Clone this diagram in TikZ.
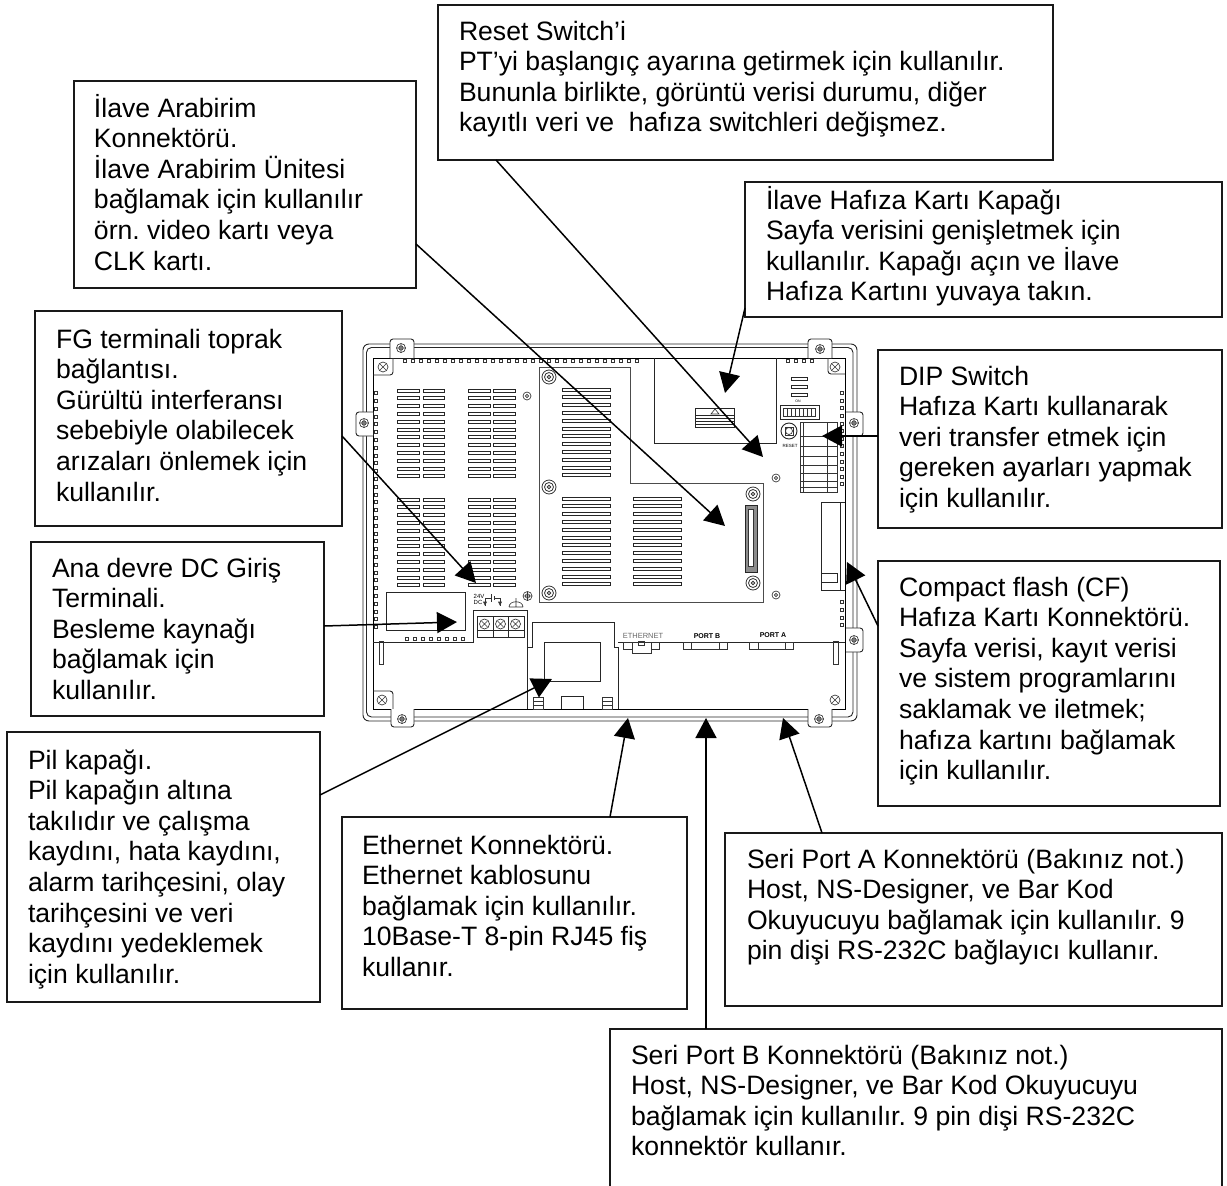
\documentclass[tikz,border=0pt]{standalone}
\usepackage{fontspec}
\setmainfont{Liberation Sans}
\usetikzlibrary{arrows.meta}
\tikzset{
  x=1pt,y=-1pt,
  calloutbox/.style={draw=black!90,line width=1.4pt,inner sep=0pt,outer sep=0pt,anchor=north west},
  leader/.style={draw=black,line width=1.5pt,-{Triangle[length=20pt,width=21pt]}},
  dev/.style={draw=black!85,line width=0.9pt},
  devfine/.style={draw=black!80,line width=0.65pt},
  devheavy/.style={draw=black,line width=0.8pt},
  devlabel/.style={inner sep=0pt,font=\fontsize{7.5}{8}\selectfont}
}
\newcommand\calloutnode[8]{%
  \node[calloutbox] (#1) at (#2,#3) {\parbox[c][\dimexpr#5pt-#3pt\relax][t]{\dimexpr#4pt-#2pt\relax}{%
    \fontsize{26.6}{30.6}\selectfont\frenchspacing\raggedright\leftskip=\dimexpr#6pt-#2pt\relax
    \vspace*{\dimexpr#7pt-#3pt-25pt\relax}\rule{0pt}{25pt}#8\par\vfil}};}
\newcommand\crossscrew[2]{\draw[devfine] (#1,#2) circle[radius=4.5];
  \draw[devfine] ({#1-4.5},#2)--({#1+4.5},#2) ({#1},{#2-4.5})--({#1},{#2+4.5}) (#1,#2) circle[radius=2.2];}
\newcommand\xscrew[2]{\draw[devfine] (#1,#2) circle[radius=5];
  \draw[devfine] ({#1-3},{#2-3})--({#1+3},{#2+3}) ({#1-3},{#2+3})--({#1+3},{#2-3});}
\newcommand\ringscrew[2]{\draw[devfine,line width=0.8pt] (#1,#2) circle[radius=7] (#1,#2) circle[radius=4.5] (#1,#2) circle[radius=1.8];}
\newcommand\smallring[2]{\draw[devfine] (#1,#2) circle[radius=4] (#1,#2) circle[radius=1.6];}
\newcommand\dotsq[2]{\draw[devfine] ({#1-1.5},{#2-1.5}) rectangle ++(3,3);}
\newcommand\ventblock[3]{\foreach \r in {0,...,11}{\draw[dev] (#1,{#3+7.8*\r}) rectangle (#2,{#3+7.8*\r+3});}}
\begin{document}
\begin{tikzpicture}
\useasboundingbox (0,0) rectangle (1227,1186);
% --- device outline
\draw[dev,rounded corners=6] (363,344) rectangle (857,721);
\draw[dev,rounded corners=5] (366.5,347.5) rectangle (853,717);
\draw[devheavy] (373,358) rectangle (845,709);
\draw[dev,rounded corners=3] (393,358)--(393,375)--(373,375);
\draw[dev,rounded corners=3] (828,358)--(828,374)--(845,374);
\draw[dev,rounded corners=3] (393,709)--(393,691)--(373,691);
\xscrew{383}{367}\xscrew{835}{367}\xscrew{382}{700}\xscrew{835}{700}
% ears
\draw[dev,fill=white,rounded corners=3] (390,358)--(390,339)--(414,339)--(414,358);
\draw[dev,fill=white,rounded corners=3] (808,358)--(808,339)--(832,339)--(832,358);
\draw[dev,fill=white,rounded corners=3] (373,412)--(356,412)--(356,436)--(373,436);
\draw[dev,fill=white,rounded corners=3] (846,412)--(863,412)--(863,436)--(846,436);
\draw[dev,fill=white,rounded corners=3] (846,628)--(863,628)--(863,652)--(846,652);
\draw[dev,fill=white,rounded corners=3] (391,709)--(391,727)--(414,727)--(414,709);
\draw[dev,fill=white,rounded corners=3] (808,709)--(808,727)--(832,727)--(832,709);
\crossscrew{401}{348}\crossscrew{820}{349}\crossscrew{364}{423}\crossscrew{854}{423}
\crossscrew{854}{640}\crossscrew{402}{719}\crossscrew{819}{719}
% edge dots
\foreach \i in {0,...,29}{\dotsq{405+8*\i}{361}}
\foreach \i in {0,...,3}{\dotsq{788+8*\i}{361}}
\foreach \i in {0,...,30}{\dotsq{376}{393+7.8*\i}}
\foreach \i in {0,...,12}{\dotsq{842}{393+7.6*\i}}
\foreach \i in {0,...,3}{\dotsq{842}{602+7.7*\i}}
\foreach \i in {0,...,7}{\dotsq{407+8*\i}{639}}
% vents
\ventblock{397.3}{419}{389}\ventblock{423}{444.7}{389}
\ventblock{468}{490}{389}\ventblock{493.7}{515}{389}
\ventblock{397.3}{419}{498}\ventblock{423}{444.7}{498}
\ventblock{468}{490}{498}\ventblock{493.7}{515}{498}
% centre plate
\draw[dev,draw=black!70] (539,367)--(630,367)--(630,483)--(763,483)--(763,602)--(539,602)--cycle;
\ventblock{562}{610}{388}\ventblock{562}{610}{497}\ventblock{633}{681}{497}
\ringscrew{549}{377}\ringscrew{549}{487}\ringscrew{549}{593}\ringscrew{753}{494}\ringscrew{753}{583}
\smallring{527}{396}\smallring{776}{478}\smallring{776}{595}
% plate connector
\draw[dev,fill=black!45] (745,505) rectangle (757,572);
\draw[devfine,fill=white] (748.5,509) rectangle (753.5,566);
% card cover
\draw[dev] (654,358)--(654,443)--(776,443)--(776,358);
\draw[dev] (695,408) rectangle (734,427);
\draw[dev] (695,415)--(734,415) (695,418)--(734,418) (695,421)--(734,421) (695,424)--(734,424);
\draw[devfine] (715,409)--(711,414)--(719,414)--cycle;
% right-hand parts
\foreach \y in {377,385,393}{\draw[dev] (791,\y) rectangle (807,\y+3.5);}
\draw[dev,line width=1pt] (780,405) rectangle (819,419);
\foreach \i in {0,...,7}{\draw[devfine] (783.5+4*\i,408) rectangle (783.5+4*\i+3.5,416.5);}
\node[devlabel,font=\fontsize{3.5}{4}\selectfont] (swlabel) at (798,401.5) {ON};
\draw[dev] (789,431) circle[radius=8];
\draw[devfine] (785,427) rectangle (793,435);
\draw[devfine] (789,431) circle[radius=3.5];
\node[devlabel,font=\fontsize{4.5}{5}\selectfont] (resetlabel) at (790,445.5) {RESET};
\draw[devfine] (800,422) rectangle (837,492);
\foreach \y in {436,446,456,465,473,481,487}{\draw[devfine] (800,\y)--(837,\y);}
\foreach \x in {803.5,827.5}{\draw[devfine] (\x,422)--(\x,492);}
% compact flash slot
\draw[dev] (821,590)--(821,502)--(845,502) (821,590)--(845,590) (840,502)--(840,590);
\draw[dev] (821,573) rectangle (837,582);
% bottom section
\draw[dev] (373,642)--(473,642)--(473,610)--(527,610)--(527,709);
\draw[dev] (527,647)--(532,647)--(532,622)--(614,622)--(614,647)--(618,647)--(618,709);
\draw[dev] (618,642)--(845,642);
\draw[dev] (544,642) rectangle (600,681);
\draw[dev] (386,592) rectangle (465,630);
\draw[devfine] (379,641) rectangle (383,664);
\draw[devfine] (833,641) rectangle (838,664);
\foreach \x in {533,602}{\draw[devfine] (\x,697) rectangle (\x+10,709) (\x,701)--(\x+10,701) (\x,705)--(\x+10,705);}
\draw[dev] (561,696)--(561,709) (583,696)--(583,709) (561,696)--(583,696);
% terminal
\draw[dev] (477,616) rectangle (524,637);
\draw[dev] (493,616)--(493,637) (508,616)--(508,637) (477,630)--(524,630);
\xscrew{484.5}{624}\xscrew{500.5}{624}\xscrew{515.5}{624}
\node[devlabel,font=\fontsize{6}{6}\selectfont] (vlabel) at (479,596) {24V};
\node[devlabel,font=\fontsize{6}{6}\selectfont] (dclabel) at (478,602.5) {DC};
\draw[devfine] (485,606)--(485,598)--(491,598) (491,594)--(491,602) (494,596)--(494,600) (494,598)--(500,598)--(500,606);
\draw[devfine,fill=black!75] (483.5,602)--(486.5,602)--(485,605)--cycle (498.5,602)--(501.5,602)--(500,605)--cycle;
\draw[devfine] (516,598)--(516,607) (509,607)--(523,607) (509,607) .. controls (509,600) and (523,600) .. (523,607);
\crossscrew{527.5}{596}
% connectors
\node[devlabel,text=black!60] (ethlabel) at (643,636) {ETHERNET};
\node[devlabel,font=\bfseries\fontsize{7}{8}\selectfont] (portblabel) at (707,636) {PORT B};
\node[devlabel,font=\bfseries\fontsize{7}{8}\selectfont] (portalabel) at (773,635) {PORT A};
\draw[devfine] (623,642) rectangle (659,649);
\draw[devfine,fill=white] (632,642) rectangle (651,653);
\draw[devfine] (638,641) rectangle (644,645);
\draw[devfine] (683,642) rectangle (727,649) (691,642)--(691,649) (719,642)--(719,649);
\draw[devfine] (749,642) rectangle (793,649) (758,642)--(758,649) (785,642)--(785,649);
% --- callouts
\calloutnode{reset}{438}{5}{1053}{160}{459}{40}{Reset Switch’i\\PT’yi başlangıç ayarına getirmek için kullanılır.\\Bununla birlikte, görüntü verisi durumu, diğer\\kayıtlı veri ve\ \ hafıza switchleri değişmez.}
\calloutnode{iface}{74}{81}{416}{288}{94}{117}{İlave Arabirim\\Konnektörü.\\İlave Arabirim Ünitesi\\bağlamak için kullanılır\\örn. video kartı veya\\CLK kartı.}
\calloutnode{memcard}{745}{182}{1222}{317}{766}{209}{İlave Hafıza Kartı Kapağı\\Sayfa verisini genişletmek için\\kullanılır. Kapağı açın ve İlave\\Hafıza Kartını yuvaya takın.}
\calloutnode{dip}{878}{350}{1222}{528}{899}{385}{DIP Switch\\Hafıza Kartı kullanarak\\veri transfer etmek için\\gereken ayarları yapmak\\için kullanılır.}
\calloutnode{fg}{35}{311}{342}{526}{56}{348}{FG terminali toprak\\bağlantısı.\\Gürültü interferansı\\sebebiyle olabilecek\\arızaları önlemek için\\kullanılır.}
\calloutnode{dc}{31}{542}{324}{716}{52}{577}{Ana devre DC Giriş\\Terminali.\\Besleme kaynağı\\bağlamak için\\kullanılır.}
\calloutnode{cf}{878}{561}{1220}{806}{899}{596}{Compact flash (CF)\\Hafıza Kartı Konnektörü.\\Sayfa verisi, kayıt verisi\\ve sistem programlarını\\saklamak ve iletmek;\\hafıza kartını bağlamak\\için kullanılır.}
\calloutnode{pil}{7}{732}{320}{1002}{28}{769}{Pil kapağı.\\Pil kapağın altına\\takılıdır ve çalışma\\kaydını, hata kaydını,\\alarm tarihçesini, olay\\tarihçesini ve veri\\kaydını yedeklemek\\için kullanılır.}
\calloutnode{eth}{342}{817}{687}{1009}{362}{854}{Ethernet Konnektörü.\\Ethernet kablosunu\\bağlamak için kullanılır.\\10Base-T 8-pin RJ45 fiş\\kullanır.}
\calloutnode{porta}{725}{833}{1222}{1006}{747}{868}{Seri Port A Konnektörü (Bakınız not.)\\Host, NS-Designer, ve Bar Kod\\Okuyucuyu bağlamak için kullanılır. 9\\pin dişi RS-232C bağlayıcı kullanır.}
\calloutnode{portb}{610}{1029}{1222}{1200}{631}{1064}{Seri Port B Konnektörü (Bakınız not.)\\Host, NS-Designer, ve Bar Kod Okuyucuyu\\bağlamak için kullanılır. 9 pin dişi RS-232C\\konnektör kullanır.}
% --- arrow tips
\coordinate (tipreset) at (763,457);
\coordinate (tipiface) at (725,526);
\coordinate (tipmem) at (725,393);
\coordinate (tipdip) at (822,436);
\coordinate (tipcf) at (847,562);
\coordinate (tipfg) at (476,583);
\coordinate (tipdc) at (457,622);
\coordinate (tippil) at (552,679);
\coordinate (tipeth) at (628,718);
\coordinate (tipb) at (706,718);
\coordinate (tipa) at (783,718);
% --- leaders
\draw[leader] ([xshift=58pt]reset.south west) -- (tipreset);
\draw[leader] ([yshift=-163pt]iface.north east) -- (tipiface);
\draw[leader] ([yshift=9pt]memcard.south west) -- (tipmem);
\draw[leader] ([yshift=-86pt]dip.north west) -- (tipdip);
\draw[leader] ([yshift=-65pt]cf.north west) -- (tipcf);
\draw[leader] ([yshift=-125pt]fg.north east) -- (tipfg);
\draw[leader] ([yshift=-84pt]dc.north east) -- (tipdc);
\draw[leader] ([yshift=-63pt]pil.north east) -- (tippil);
\draw[leader] ([xshift=268pt]eth.north west) -- (tipeth);
\draw[leader] ([xshift=96pt]portb.north west) -- (tipb);
\draw[leader] ([xshift=97pt]porta.north west) -- (tipa);
\end{tikzpicture}
\end{document}
